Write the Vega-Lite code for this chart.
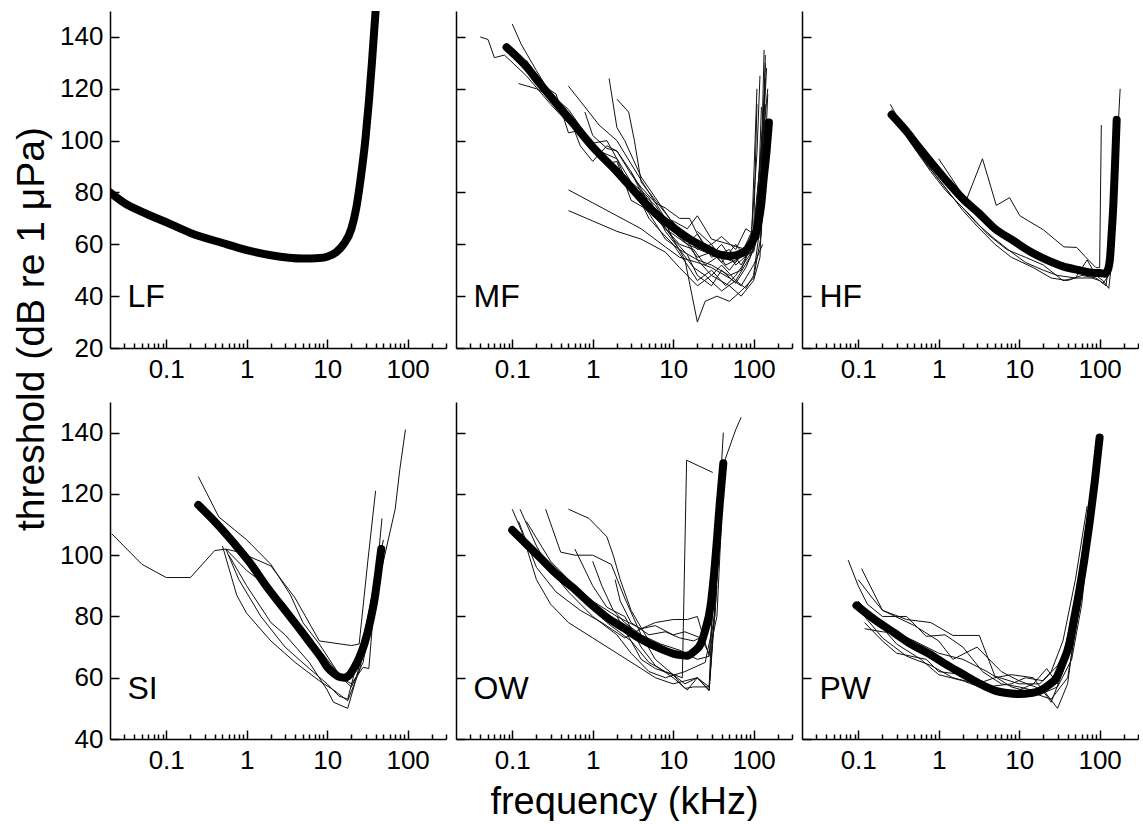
{
  "$schema": "https://vega.github.io/schema/vega-lite/v6.json",
  "padding": {"left": 12, "top": 11, "right": 0, "bottom": 0},
  "config": {
    "view": {"stroke": null},
    "font": "Liberation Sans",
    "axis": {"grid": false, "domainColor": "black", "domainWidth": 1.5, "tickColor": "black", "tickWidth": 1.5, "labelColor": "black", "labelFont": "Liberation Sans", "titleFont": "Liberation Sans", "titleFontSize": 38, "titleFontWeight": "normal", "titleColor": "black", "labelOverlap": false, "labelFlush": false}
  },
  "title": {"text": "threshold (dB re 1 μPa)", "orient": "left", "anchor": "middle", "fontSize": 39, "font": "Liberation Sans", "fontWeight": "normal", "color": "black", "offset": 8, "dx": 87},
  "data": {"name": "curves"},
  "datasets": {
    "curves": [
      {"g":"LF","s":"fit","f":0.02,"t":80},{"g":"LF","s":"fit","f":0.03,"t":76},{"g":"LF","s":"fit","f":0.05,"t":72.5},{"g":"LF","s":"fit","f":0.1,"t":68.5},{"g":"LF","s":"fit","f":0.2,"t":64.4},{"g":"LF","s":"fit","f":0.5,"t":60.5},{"g":"LF","s":"fit","f":1,"t":57.8},{"g":"LF","s":"fit","f":2,"t":55.8},{"g":"LF","s":"fit","f":5,"t":54.5},{"g":"LF","s":"fit","f":8,"t":54.7},{"g":"LF","s":"fit","f":10,"t":55.2},{"g":"LF","s":"fit","f":13,"t":57},{"g":"LF","s":"fit","f":16,"t":60},{"g":"LF","s":"fit","f":20,"t":66},{"g":"LF","s":"fit","f":23,"t":74},{"g":"LF","s":"fit","f":26,"t":85},{"g":"LF","s":"fit","f":30,"t":101},{"g":"LF","s":"fit","f":33,"t":115},{"g":"LF","s":"fit","f":36,"t":130},{"g":"LF","s":"fit","f":40,"t":150},

      {"g":"MF","s":"fit","f":0.085,"t":136},{"g":"MF","s":"fit","f":0.15,"t":128.5},{"g":"MF","s":"fit","f":0.22,"t":122},{"g":"MF","s":"fit","f":0.56,"t":107},{"g":"MF","s":"fit","f":1,"t":97.6},{"g":"MF","s":"fit","f":2,"t":88},{"g":"MF","s":"fit","f":3.9,"t":78},{"g":"MF","s":"fit","f":6,"t":72},{"g":"MF","s":"fit","f":10,"t":66.5},{"g":"MF","s":"fit","f":17,"t":61.5},{"g":"MF","s":"fit","f":26,"t":58.5},{"g":"MF","s":"fit","f":38,"t":56},{"g":"MF","s":"fit","f":51,"t":55.5},{"g":"MF","s":"fit","f":70,"t":56.5},{"g":"MF","s":"fit","f":85,"t":58.5},{"g":"MF","s":"fit","f":100,"t":62},{"g":"MF","s":"fit","f":112,"t":66.7},{"g":"MF","s":"fit","f":125,"t":76},{"g":"MF","s":"fit","f":133,"t":85},{"g":"MF","s":"fit","f":145,"t":96},{"g":"MF","s":"fit","f":155,"t":107},

      {"g":"MF","s":"m1","f":0.04,"t":140},{"g":"MF","s":"m1","f":0.05,"t":139},{"g":"MF","s":"m1","f":0.06,"t":132},{"g":"MF","s":"m1","f":0.08,"t":133},{"g":"MF","s":"m1","f":0.15,"t":125},{"g":"MF","s":"m1","f":0.3,"t":114},{"g":"MF","s":"m1","f":0.6,"t":104},{"g":"MF","s":"m1","f":1,"t":97},{"g":"MF","s":"m1","f":2,"t":88},{"g":"MF","s":"m1","f":4,"t":76},{"g":"MF","s":"m1","f":8,"t":66},{"g":"MF","s":"m1","f":15,"t":60},{"g":"MF","s":"m1","f":25,"t":57},{"g":"MF","s":"m1","f":40,"t":55},{"g":"MF","s":"m1","f":60,"t":53},{"g":"MF","s":"m1","f":80,"t":58},{"g":"MF","s":"m1","f":100,"t":66},{"g":"MF","s":"m1","f":120,"t":90},{"g":"MF","s":"m1","f":140,"t":124},
      {"g":"MF","s":"m2","f":0.1,"t":145},{"g":"MF","s":"m2","f":0.13,"t":137},{"g":"MF","s":"m2","f":0.2,"t":127},{"g":"MF","s":"m2","f":0.3,"t":118},{"g":"MF","s":"m2","f":0.5,"t":112},{"g":"MF","s":"m2","f":0.8,"t":103},{"g":"MF","s":"m2","f":1.2,"t":96},{"g":"MF","s":"m2","f":2,"t":93},{"g":"MF","s":"m2","f":3,"t":80},{"g":"MF","s":"m2","f":5,"t":72},{"g":"MF","s":"m2","f":8,"t":62},{"g":"MF","s":"m2","f":12,"t":58},{"g":"MF","s":"m2","f":20,"t":54},{"g":"MF","s":"m2","f":30,"t":52},{"g":"MF","s":"m2","f":50,"t":48},{"g":"MF","s":"m2","f":70,"t":50},{"g":"MF","s":"m2","f":100,"t":62},{"g":"MF","s":"m2","f":130,"t":105},
      {"g":"MF","s":"m3","f":0.12,"t":122},{"g":"MF","s":"m3","f":0.2,"t":120},{"g":"MF","s":"m3","f":0.3,"t":117},{"g":"MF","s":"m3","f":0.5,"t":110},{"g":"MF","s":"m3","f":0.7,"t":104},{"g":"MF","s":"m3","f":1,"t":99},{"g":"MF","s":"m3","f":1.5,"t":100},{"g":"MF","s":"m3","f":2,"t":93},{"g":"MF","s":"m3","f":3,"t":84},{"g":"MF","s":"m3","f":5,"t":70},{"g":"MF","s":"m3","f":7,"t":65},{"g":"MF","s":"m3","f":10,"t":60},{"g":"MF","s":"m3","f":15,"t":52},{"g":"MF","s":"m3","f":20,"t":46},{"g":"MF","s":"m3","f":30,"t":50},{"g":"MF","s":"m3","f":45,"t":44},{"g":"MF","s":"m3","f":60,"t":48},{"g":"MF","s":"m3","f":90,"t":56},{"g":"MF","s":"m3","f":110,"t":95},{"g":"MF","s":"m3","f":120,"t":125},
      {"g":"MF","s":"m4","f":0.5,"t":81},{"g":"MF","s":"m4","f":1,"t":76},{"g":"MF","s":"m4","f":2,"t":71},{"g":"MF","s":"m4","f":4,"t":66},{"g":"MF","s":"m4","f":8,"t":59},{"g":"MF","s":"m4","f":12,"t":55},{"g":"MF","s":"m4","f":20,"t":53},{"g":"MF","s":"m4","f":30,"t":51},{"g":"MF","s":"m4","f":50,"t":47},{"g":"MF","s":"m4","f":70,"t":44},{"g":"MF","s":"m4","f":100,"t":52},{"g":"MF","s":"m4","f":130,"t":60},
      {"g":"MF","s":"m5","f":0.5,"t":73},{"g":"MF","s":"m5","f":1,"t":69},{"g":"MF","s":"m5","f":2,"t":65},{"g":"MF","s":"m5","f":4,"t":62},{"g":"MF","s":"m5","f":8,"t":57},{"g":"MF","s":"m5","f":12,"t":51},{"g":"MF","s":"m5","f":20,"t":44},{"g":"MF","s":"m5","f":30,"t":48},{"g":"MF","s":"m5","f":50,"t":44},{"g":"MF","s":"m5","f":70,"t":40},{"g":"MF","s":"m5","f":100,"t":46},{"g":"MF","s":"m5","f":120,"t":55},{"g":"MF","s":"m5","f":140,"t":108},
      {"g":"MF","s":"m6","f":1.6,"t":124},{"g":"MF","s":"m6","f":2,"t":105},{"g":"MF","s":"m6","f":2.5,"t":100},{"g":"MF","s":"m6","f":4,"t":86},{"g":"MF","s":"m6","f":6,"t":78},{"g":"MF","s":"m6","f":10,"t":68},{"g":"MF","s":"m6","f":15,"t":62},{"g":"MF","s":"m6","f":20,"t":54},{"g":"MF","s":"m6","f":30,"t":48},{"g":"MF","s":"m6","f":40,"t":52},{"g":"MF","s":"m6","f":60,"t":46},{"g":"MF","s":"m6","f":90,"t":55},{"g":"MF","s":"m6","f":110,"t":63},
      {"g":"MF","s":"m7","f":2,"t":116},{"g":"MF","s":"m7","f":2.8,"t":111},{"g":"MF","s":"m7","f":3.3,"t":100},{"g":"MF","s":"m7","f":4,"t":84},{"g":"MF","s":"m7","f":6,"t":77},{"g":"MF","s":"m7","f":9,"t":70},{"g":"MF","s":"m7","f":14,"t":64},{"g":"MF","s":"m7","f":20,"t":58},{"g":"MF","s":"m7","f":30,"t":60},{"g":"MF","s":"m7","f":45,"t":52},{"g":"MF","s":"m7","f":70,"t":55},{"g":"MF","s":"m7","f":100,"t":57},{"g":"MF","s":"m7","f":120,"t":68},{"g":"MF","s":"m7","f":140,"t":130},
      {"g":"MF","s":"m8","f":0.5,"t":121},{"g":"MF","s":"m8","f":0.8,"t":113},{"g":"MF","s":"m8","f":1.2,"t":106},{"g":"MF","s":"m8","f":2,"t":100},{"g":"MF","s":"m8","f":3,"t":91},{"g":"MF","s":"m8","f":5,"t":80},{"g":"MF","s":"m8","f":8,"t":70},{"g":"MF","s":"m8","f":10,"t":69},{"g":"MF","s":"m8","f":15,"t":66},{"g":"MF","s":"m8","f":20,"t":71},{"g":"MF","s":"m8","f":30,"t":62},{"g":"MF","s":"m8","f":50,"t":60},{"g":"MF","s":"m8","f":80,"t":58},{"g":"MF","s":"m8","f":100,"t":62},{"g":"MF","s":"m8","f":130,"t":100},{"g":"MF","s":"m8","f":150,"t":120},
      {"g":"MF","s":"m9","f":0.2,"t":123},{"g":"MF","s":"m9","f":0.3,"t":119},{"g":"MF","s":"m9","f":0.5,"t":110},{"g":"MF","s":"m9","f":0.7,"t":98},{"g":"MF","s":"m9","f":1,"t":92},{"g":"MF","s":"m9","f":1.5,"t":98},{"g":"MF","s":"m9","f":2,"t":96},{"g":"MF","s":"m9","f":3,"t":88},{"g":"MF","s":"m9","f":4,"t":80},{"g":"MF","s":"m9","f":6,"t":75},{"g":"MF","s":"m9","f":10,"t":65},{"g":"MF","s":"m9","f":15,"t":60},{"g":"MF","s":"m9","f":20,"t":64},{"g":"MF","s":"m9","f":30,"t":55},{"g":"MF","s":"m9","f":50,"t":58},{"g":"MF","s":"m9","f":70,"t":52},{"g":"MF","s":"m9","f":100,"t":60},{"g":"MF","s":"m9","f":120,"t":80},{"g":"MF","s":"m9","f":145,"t":128},
      {"g":"MF","s":"m10","f":0.15,"t":131},{"g":"MF","s":"m10","f":0.25,"t":121},{"g":"MF","s":"m10","f":0.35,"t":118},{"g":"MF","s":"m10","f":0.5,"t":103},{"g":"MF","s":"m10","f":0.7,"t":104},{"g":"MF","s":"m10","f":1,"t":96},{"g":"MF","s":"m10","f":2,"t":90},{"g":"MF","s":"m10","f":3,"t":84},{"g":"MF","s":"m10","f":5,"t":78},{"g":"MF","s":"m10","f":8,"t":65},{"g":"MF","s":"m10","f":12,"t":58},{"g":"MF","s":"m10","f":18,"t":51},{"g":"MF","s":"m10","f":25,"t":48},{"g":"MF","s":"m10","f":40,"t":42},{"g":"MF","s":"m10","f":60,"t":46},{"g":"MF","s":"m10","f":80,"t":43},{"g":"MF","s":"m10","f":100,"t":48},{"g":"MF","s":"m10","f":130,"t":75},{"g":"MF","s":"m10","f":150,"t":118},
      {"g":"MF","s":"m11","f":0.3,"t":115},{"g":"MF","s":"m11","f":0.5,"t":108},{"g":"MF","s":"m11","f":1,"t":96},{"g":"MF","s":"m11","f":1.5,"t":91},{"g":"MF","s":"m11","f":2,"t":92},{"g":"MF","s":"m11","f":3,"t":77},{"g":"MF","s":"m11","f":5,"t":73},{"g":"MF","s":"m11","f":7,"t":72},{"g":"MF","s":"m11","f":10,"t":62},{"g":"MF","s":"m11","f":14,"t":54},{"g":"MF","s":"m11","f":20,"t":30},{"g":"MF","s":"m11","f":25,"t":38},{"g":"MF","s":"m11","f":35,"t":40},{"g":"MF","s":"m11","f":50,"t":38},{"g":"MF","s":"m11","f":70,"t":42},{"g":"MF","s":"m11","f":100,"t":47},{"g":"MF","s":"m11","f":125,"t":64},{"g":"MF","s":"m11","f":140,"t":114},
      {"g":"MF","s":"m12","f":0.8,"t":111},{"g":"MF","s":"m12","f":1,"t":102},{"g":"MF","s":"m12","f":1.5,"t":97},{"g":"MF","s":"m12","f":2,"t":96},{"g":"MF","s":"m12","f":3,"t":87},{"g":"MF","s":"m12","f":4,"t":82},{"g":"MF","s":"m12","f":6,"t":76},{"g":"MF","s":"m12","f":8,"t":74},{"g":"MF","s":"m12","f":12,"t":70},{"g":"MF","s":"m12","f":16,"t":70},{"g":"MF","s":"m12","f":20,"t":64},{"g":"MF","s":"m12","f":30,"t":56},{"g":"MF","s":"m12","f":40,"t":60},{"g":"MF","s":"m12","f":60,"t":52},{"g":"MF","s":"m12","f":100,"t":58},{"g":"MF","s":"m12","f":120,"t":70},{"g":"MF","s":"m12","f":135,"t":135},
      {"g":"MF","s":"m13","f":4,"t":80},{"g":"MF","s":"m13","f":6,"t":72},{"g":"MF","s":"m13","f":10,"t":62},{"g":"MF","s":"m13","f":15,"t":56},{"g":"MF","s":"m13","f":20,"t":48},{"g":"MF","s":"m13","f":30,"t":44},{"g":"MF","s":"m13","f":40,"t":50},{"g":"MF","s":"m13","f":60,"t":45},{"g":"MF","s":"m13","f":80,"t":51},{"g":"MF","s":"m13","f":100,"t":58},{"g":"MF","s":"m13","f":115,"t":80},{"g":"MF","s":"m13","f":125,"t":113},
      {"g":"MF","s":"m14","f":3,"t":88},{"g":"MF","s":"m14","f":5,"t":76},{"g":"MF","s":"m14","f":8,"t":66},{"g":"MF","s":"m14","f":12,"t":60},{"g":"MF","s":"m14","f":18,"t":58},{"g":"MF","s":"m14","f":25,"t":52},{"g":"MF","s":"m14","f":35,"t":55},{"g":"MF","s":"m14","f":50,"t":50},{"g":"MF","s":"m14","f":70,"t":56},{"g":"MF","s":"m14","f":95,"t":65},{"g":"MF","s":"m14","f":110,"t":120},
      {"g":"MF","s":"m15","f":10,"t":66},{"g":"MF","s":"m15","f":15,"t":60},{"g":"MF","s":"m15","f":20,"t":55},{"g":"MF","s":"m15","f":30,"t":57},{"g":"MF","s":"m15","f":40,"t":53},{"g":"MF","s":"m15","f":60,"t":60},{"g":"MF","s":"m15","f":80,"t":55},{"g":"MF","s":"m15","f":100,"t":60},{"g":"MF","s":"m15","f":120,"t":63},{"g":"MF","s":"m15","f":140,"t":133},
      {"g":"MF","s":"m16","f":20,"t":65},{"g":"MF","s":"m16","f":30,"t":60},{"g":"MF","s":"m16","f":40,"t":63},{"g":"MF","s":"m16","f":60,"t":58},{"g":"MF","s":"m16","f":80,"t":66},{"g":"MF","s":"m16","f":100,"t":64},{"g":"MF","s":"m16","f":110,"t":114},

      {"g":"HF","s":"fit","f":0.26,"t":110},{"g":"HF","s":"fit","f":0.4,"t":103.5},{"g":"HF","s":"fit","f":0.56,"t":97.6},{"g":"HF","s":"fit","f":1.22,"t":84.9},{"g":"HF","s":"fit","f":2,"t":77.5},{"g":"HF","s":"fit","f":3.16,"t":72},{"g":"HF","s":"fit","f":5,"t":66},{"g":"HF","s":"fit","f":8.2,"t":61.7},{"g":"HF","s":"fit","f":14,"t":57},{"g":"HF","s":"fit","f":22,"t":54},{"g":"HF","s":"fit","f":35,"t":51.5},{"g":"HF","s":"fit","f":56,"t":50},{"g":"HF","s":"fit","f":80,"t":49},{"g":"HF","s":"fit","f":100,"t":48.9},{"g":"HF","s":"fit","f":115,"t":48.6},{"g":"HF","s":"fit","f":126,"t":50},{"g":"HF","s":"fit","f":135,"t":55},{"g":"HF","s":"fit","f":141,"t":64},{"g":"HF","s":"fit","f":148,"t":75},{"g":"HF","s":"fit","f":155,"t":90},{"g":"HF","s":"fit","f":163,"t":108},
      {"g":"HF","s":"h1","f":0.25,"t":114},{"g":"HF","s":"h1","f":0.35,"t":106},{"g":"HF","s":"h1","f":0.5,"t":97},{"g":"HF","s":"h1","f":0.8,"t":88},{"g":"HF","s":"h1","f":1.2,"t":81},{"g":"HF","s":"h1","f":2,"t":74},{"g":"HF","s":"h1","f":3,"t":68},{"g":"HF","s":"h1","f":5,"t":62},{"g":"HF","s":"h1","f":8,"t":57},{"g":"HF","s":"h1","f":12,"t":53},{"g":"HF","s":"h1","f":20,"t":50},{"g":"HF","s":"h1","f":30,"t":48},{"g":"HF","s":"h1","f":50,"t":47},{"g":"HF","s":"h1","f":80,"t":47},{"g":"HF","s":"h1","f":100,"t":46},{"g":"HF","s":"h1","f":120,"t":44},{"g":"HF","s":"h1","f":140,"t":60},{"g":"HF","s":"h1","f":160,"t":90},{"g":"HF","s":"h1","f":180,"t":120},
      {"g":"HF","s":"h2","f":0.26,"t":112},{"g":"HF","s":"h2","f":0.4,"t":103},{"g":"HF","s":"h2","f":0.6,"t":94},{"g":"HF","s":"h2","f":1,"t":85},{"g":"HF","s":"h2","f":1.5,"t":78},{"g":"HF","s":"h2","f":2.5,"t":71},{"g":"HF","s":"h2","f":4,"t":64},{"g":"HF","s":"h2","f":7,"t":58},{"g":"HF","s":"h2","f":12,"t":55},{"g":"HF","s":"h2","f":20,"t":52},{"g":"HF","s":"h2","f":35,"t":46},{"g":"HF","s":"h2","f":50,"t":47},{"g":"HF","s":"h2","f":70,"t":54},{"g":"HF","s":"h2","f":90,"t":48},{"g":"HF","s":"h2","f":110,"t":46},{"g":"HF","s":"h2","f":130,"t":43},{"g":"HF","s":"h2","f":150,"t":60},
      {"g":"HF","s":"h3","f":1,"t":93},{"g":"HF","s":"h3","f":2.2,"t":77},{"g":"HF","s":"h3","f":3.5,"t":93},{"g":"HF","s":"h3","f":5.2,"t":75},{"g":"HF","s":"h3","f":7.6,"t":78},{"g":"HF","s":"h3","f":10.2,"t":71},{"g":"HF","s":"h3","f":20,"t":65.6},{"g":"HF","s":"h3","f":36,"t":59},{"g":"HF","s":"h3","f":52,"t":58.8},{"g":"HF","s":"h3","f":66,"t":55.3},{"g":"HF","s":"h3","f":90,"t":51},{"g":"HF","s":"h3","f":100,"t":51},{"g":"HF","s":"h3","f":105,"t":106},
      {"g":"HF","s":"h4","f":0.28,"t":109},{"g":"HF","s":"h4","f":0.45,"t":99},{"g":"HF","s":"h4","f":0.7,"t":91},{"g":"HF","s":"h4","f":1.2,"t":82},{"g":"HF","s":"h4","f":2,"t":73},{"g":"HF","s":"h4","f":3,"t":67},{"g":"HF","s":"h4","f":5,"t":60},{"g":"HF","s":"h4","f":8,"t":55},{"g":"HF","s":"h4","f":15,"t":51},{"g":"HF","s":"h4","f":25,"t":47},{"g":"HF","s":"h4","f":40,"t":46},{"g":"HF","s":"h4","f":60,"t":48},{"g":"HF","s":"h4","f":90,"t":47},{"g":"HF","s":"h4","f":110,"t":45},{"g":"HF","s":"h4","f":130,"t":48},{"g":"HF","s":"h4","f":150,"t":75},{"g":"HF","s":"h4","f":165,"t":105},

      {"g":"SI","s":"fit","f":0.25,"t":116.4},{"g":"SI","s":"fit","f":0.4,"t":111},{"g":"SI","s":"fit","f":0.69,"t":104},{"g":"SI","s":"fit","f":1.1,"t":97.5},{"g":"SI","s":"fit","f":1.8,"t":89.5},{"g":"SI","s":"fit","f":3,"t":82},{"g":"SI","s":"fit","f":4.7,"t":75.4},{"g":"SI","s":"fit","f":6.5,"t":70.5},{"g":"SI","s":"fit","f":8.4,"t":66.6},{"g":"SI","s":"fit","f":10,"t":63.5},{"g":"SI","s":"fit","f":12.3,"t":61.3},{"g":"SI","s":"fit","f":14,"t":60.3},{"g":"SI","s":"fit","f":16.3,"t":60},{"g":"SI","s":"fit","f":19,"t":61},{"g":"SI","s":"fit","f":21.7,"t":63.3},{"g":"SI","s":"fit","f":25,"t":66.5},{"g":"SI","s":"fit","f":29,"t":71},{"g":"SI","s":"fit","f":34,"t":78},{"g":"SI","s":"fit","f":39,"t":86},{"g":"SI","s":"fit","f":43,"t":94},{"g":"SI","s":"fit","f":47,"t":102},
      {"g":"SI","s":"s1","f":0.021,"t":107},{"g":"SI","s":"s1","f":0.05,"t":97},{"g":"SI","s":"s1","f":0.1,"t":92.7},{"g":"SI","s":"s1","f":0.2,"t":92.7},{"g":"SI","s":"s1","f":0.4,"t":101.5},{"g":"SI","s":"s1","f":0.55,"t":102},{"g":"SI","s":"s1","f":0.8,"t":101},{"g":"SI","s":"s1","f":2,"t":96.5},{"g":"SI","s":"s1","f":4,"t":86},{"g":"SI","s":"s1","f":8,"t":72},{"g":"SI","s":"s1","f":20,"t":70.5},{"g":"SI","s":"s1","f":25,"t":71},{"g":"SI","s":"s1","f":32,"t":98},{"g":"SI","s":"s1","f":40,"t":121},
      {"g":"SI","s":"s2","f":0.25,"t":125.7},{"g":"SI","s":"s2","f":0.45,"t":112.5},{"g":"SI","s":"s2","f":1,"t":105},{"g":"SI","s":"s2","f":2,"t":97},{"g":"SI","s":"s2","f":3.5,"t":87},{"g":"SI","s":"s2","f":5,"t":78},{"g":"SI","s":"s2","f":8,"t":71},{"g":"SI","s":"s2","f":15,"t":60},{"g":"SI","s":"s2","f":20,"t":58},{"g":"SI","s":"s2","f":28,"t":63.4},{"g":"SI","s":"s2","f":33,"t":63},{"g":"SI","s":"s2","f":40,"t":90},{"g":"SI","s":"s2","f":48,"t":112},
      {"g":"SI","s":"s3","f":0.5,"t":103},{"g":"SI","s":"s3","f":0.75,"t":87},{"g":"SI","s":"s3","f":1,"t":81},{"g":"SI","s":"s3","f":2,"t":72},{"g":"SI","s":"s3","f":4,"t":65},{"g":"SI","s":"s3","f":8,"t":59},{"g":"SI","s":"s3","f":12,"t":56},{"g":"SI","s":"s3","f":18,"t":52.5},{"g":"SI","s":"s3","f":25,"t":62},{"g":"SI","s":"s3","f":35,"t":80},{"g":"SI","s":"s3","f":50,"t":98},{"g":"SI","s":"s3","f":70,"t":115},{"g":"SI","s":"s3","f":80,"t":128},{"g":"SI","s":"s3","f":94,"t":141},
      {"g":"SI","s":"s4","f":0.55,"t":102},{"g":"SI","s":"s4","f":0.8,"t":92},{"g":"SI","s":"s4","f":1.5,"t":80},{"g":"SI","s":"s4","f":3,"t":70},{"g":"SI","s":"s4","f":6,"t":63},{"g":"SI","s":"s4","f":10,"t":58},{"g":"SI","s":"s4","f":14,"t":54},{"g":"SI","s":"s4","f":18,"t":53},{"g":"SI","s":"s4","f":22,"t":62},{"g":"SI","s":"s4","f":30,"t":76},{"g":"SI","s":"s4","f":40,"t":93},{"g":"SI","s":"s4","f":50,"t":105},
      {"g":"SI","s":"s5","f":0.6,"t":100},{"g":"SI","s":"s5","f":1,"t":90},{"g":"SI","s":"s5","f":2,"t":78},{"g":"SI","s":"s5","f":3,"t":74},{"g":"SI","s":"s5","f":6,"t":65},{"g":"SI","s":"s5","f":10,"t":56},{"g":"SI","s":"s5","f":12,"t":52},{"g":"SI","s":"s5","f":18,"t":50},{"g":"SI","s":"s5","f":22,"t":58},{"g":"SI","s":"s5","f":30,"t":72},{"g":"SI","s":"s5","f":45,"t":100},
      {"g":"SI","s":"s6","f":0.55,"t":102},{"g":"SI","s":"s6","f":1,"t":95},{"g":"SI","s":"s6","f":2,"t":89},{"g":"SI","s":"s6","f":3,"t":84},{"g":"SI","s":"s6","f":4,"t":78},{"g":"SI","s":"s6","f":6,"t":73},{"g":"SI","s":"s6","f":10,"t":66},{"g":"SI","s":"s6","f":15,"t":60},{"g":"SI","s":"s6","f":20,"t":57},{"g":"SI","s":"s6","f":28,"t":65},{"g":"SI","s":"s6","f":40,"t":88},

      {"g":"OW","s":"fit","f":0.1,"t":108.2},{"g":"OW","s":"fit","f":0.22,"t":99.3},{"g":"OW","s":"fit","f":0.35,"t":94},{"g":"OW","s":"fit","f":0.56,"t":89.5},{"g":"OW","s":"fit","f":1,"t":83.5},{"g":"OW","s":"fit","f":1.5,"t":79.7},{"g":"OW","s":"fit","f":2.5,"t":76},{"g":"OW","s":"fit","f":3.9,"t":72.7},{"g":"OW","s":"fit","f":6.5,"t":69.8},{"g":"OW","s":"fit","f":10,"t":67.9},{"g":"OW","s":"fit","f":12.5,"t":67.4},{"g":"OW","s":"fit","f":15,"t":67.2},{"g":"OW","s":"fit","f":18,"t":68.5},{"g":"OW","s":"fit","f":22,"t":71},{"g":"OW","s":"fit","f":25,"t":75.5},{"g":"OW","s":"fit","f":29,"t":83},{"g":"OW","s":"fit","f":32,"t":93},{"g":"OW","s":"fit","f":35,"t":105},{"g":"OW","s":"fit","f":38,"t":117},{"g":"OW","s":"fit","f":42,"t":130},
      {"g":"OW","s":"o1","f":0.1,"t":115},{"g":"OW","s":"o1","f":0.13,"t":108},{"g":"OW","s":"o1","f":0.2,"t":92},{"g":"OW","s":"o1","f":0.3,"t":84},{"g":"OW","s":"o1","f":0.5,"t":78},{"g":"OW","s":"o1","f":1,"t":73},{"g":"OW","s":"o1","f":2,"t":68},{"g":"OW","s":"o1","f":4,"t":63},{"g":"OW","s":"o1","f":6,"t":60},{"g":"OW","s":"o1","f":10,"t":58},{"g":"OW","s":"o1","f":20,"t":60},{"g":"OW","s":"o1","f":28,"t":57},{"g":"OW","s":"o1","f":33,"t":83},{"g":"OW","s":"o1","f":38,"t":120},{"g":"OW","s":"o1","f":42,"t":140},
      {"g":"OW","s":"o2","f":0.125,"t":115},{"g":"OW","s":"o2","f":0.2,"t":103},{"g":"OW","s":"o2","f":0.3,"t":95},{"g":"OW","s":"o2","f":0.5,"t":88},{"g":"OW","s":"o2","f":1,"t":80},{"g":"OW","s":"o2","f":2,"t":74},{"g":"OW","s":"o2","f":3,"t":68},{"g":"OW","s":"o2","f":5,"t":62},{"g":"OW","s":"o2","f":8,"t":60},{"g":"OW","s":"o2","f":14,"t":62},{"g":"OW","s":"o2","f":25,"t":65},{"g":"OW","s":"o2","f":33,"t":80},{"g":"OW","s":"o2","f":40,"t":118},
      {"g":"OW","s":"o3","f":0.26,"t":115},{"g":"OW","s":"o3","f":0.4,"t":101},{"g":"OW","s":"o3","f":0.6,"t":100},{"g":"OW","s":"o3","f":1,"t":100},{"g":"OW","s":"o3","f":1.7,"t":97},{"g":"OW","s":"o3","f":2.5,"t":86},{"g":"OW","s":"o3","f":4,"t":74},{"g":"OW","s":"o3","f":6,"t":66},{"g":"OW","s":"o3","f":10,"t":61},{"g":"OW","s":"o3","f":14,"t":56.5},{"g":"OW","s":"o3","f":18,"t":57},{"g":"OW","s":"o3","f":28,"t":57},{"g":"OW","s":"o3","f":33,"t":100},{"g":"OW","s":"o3","f":40,"t":128},{"g":"OW","s":"o3","f":60,"t":141},{"g":"OW","s":"o3","f":70,"t":145},
      {"g":"OW","s":"o4","f":0.5,"t":115},{"g":"OW","s":"o4","f":0.9,"t":112},{"g":"OW","s":"o4","f":1.5,"t":106},{"g":"OW","s":"o4","f":1.8,"t":100},{"g":"OW","s":"o4","f":2.2,"t":92},{"g":"OW","s":"o4","f":3,"t":82},{"g":"OW","s":"o4","f":5,"t":72},{"g":"OW","s":"o4","f":8,"t":68},{"g":"OW","s":"o4","f":12,"t":67},{"g":"OW","s":"o4","f":20,"t":70},{"g":"OW","s":"o4","f":30,"t":80},
      {"g":"OW","s":"o5","f":0.6,"t":102},{"g":"OW","s":"o5","f":1,"t":90},{"g":"OW","s":"o5","f":1.5,"t":83},{"g":"OW","s":"o5","f":2.5,"t":80},{"g":"OW","s":"o5","f":4,"t":70},{"g":"OW","s":"o5","f":6,"t":64},{"g":"OW","s":"o5","f":10,"t":60},{"g":"OW","s":"o5","f":15,"t":56},{"g":"OW","s":"o5","f":20,"t":60},{"g":"OW","s":"o5","f":28,"t":55.7},{"g":"OW","s":"o5","f":35,"t":90},
      {"g":"OW","s":"o6","f":1,"t":98},{"g":"OW","s":"o6","f":1.3,"t":90},{"g":"OW","s":"o6","f":1.8,"t":82},{"g":"OW","s":"o6","f":2.5,"t":78},{"g":"OW","s":"o6","f":4,"t":74},{"g":"OW","s":"o6","f":7,"t":71},{"g":"OW","s":"o6","f":12,"t":69},{"g":"OW","s":"o6","f":20,"t":66},{"g":"OW","s":"o6","f":28,"t":67},
      {"g":"OW","s":"o7","f":1.9,"t":92},{"g":"OW","s":"o7","f":2.2,"t":85},{"g":"OW","s":"o7","f":3,"t":78},{"g":"OW","s":"o7","f":5,"t":74},{"g":"OW","s":"o7","f":8,"t":75},{"g":"OW","s":"o7","f":12,"t":73},{"g":"OW","s":"o7","f":18,"t":72},{"g":"OW","s":"o7","f":25,"t":74},{"g":"OW","s":"o7","f":30,"t":78},
      {"g":"OW","s":"o8","f":0.12,"t":111},{"g":"OW","s":"o8","f":0.2,"t":96},{"g":"OW","s":"o8","f":0.35,"t":88},{"g":"OW","s":"o8","f":0.7,"t":82},{"g":"OW","s":"o8","f":1.3,"t":78},{"g":"OW","s":"o8","f":2.5,"t":73},{"g":"OW","s":"o8","f":4,"t":76},{"g":"OW","s":"o8","f":6,"t":77},{"g":"OW","s":"o8","f":10,"t":74},{"g":"OW","s":"o8","f":14,"t":75},{"g":"OW","s":"o8","f":22,"t":73},{"g":"OW","s":"o8","f":28,"t":68},{"g":"OW","s":"o8","f":35,"t":80},{"g":"OW","s":"o8","f":40,"t":112},
      {"g":"OW","s":"o9","f":1,"t":83},{"g":"OW","s":"o9","f":1.5,"t":78},{"g":"OW","s":"o9","f":3,"t":72},{"g":"OW","s":"o9","f":5,"t":65},{"g":"OW","s":"o9","f":8,"t":62},{"g":"OW","s":"o9","f":13,"t":60},{"g":"OW","s":"o9","f":14.7,"t":131},{"g":"OW","s":"o9","f":31,"t":127},
      {"g":"OW","s":"o10","f":0.15,"t":111},{"g":"OW","s":"o10","f":0.3,"t":98},{"g":"OW","s":"o10","f":0.6,"t":90},{"g":"OW","s":"o10","f":1,"t":85},{"g":"OW","s":"o10","f":2,"t":80},{"g":"OW","s":"o10","f":4,"t":76},{"g":"OW","s":"o10","f":6,"t":78},{"g":"OW","s":"o10","f":10,"t":79},{"g":"OW","s":"o10","f":15,"t":79},{"g":"OW","s":"o10","f":20,"t":80},{"g":"OW","s":"o10","f":28,"t":67},{"g":"OW","s":"o10","f":35,"t":100},
      {"g":"OW","s":"o11","f":2,"t":80},{"g":"OW","s":"o11","f":3,"t":72},{"g":"OW","s":"o11","f":4,"t":66},{"g":"OW","s":"o11","f":6,"t":63},{"g":"OW","s":"o11","f":10,"t":61},{"g":"OW","s":"o11","f":14,"t":58},{"g":"OW","s":"o11","f":20,"t":60},{"g":"OW","s":"o11","f":28,"t":56},{"g":"OW","s":"o11","f":33,"t":84},

      {"g":"PW","s":"fit","f":0.095,"t":83.6},{"g":"PW","s":"fit","f":0.15,"t":79.5},{"g":"PW","s":"fit","f":0.29,"t":74.4},{"g":"PW","s":"fit","f":0.45,"t":71},{"g":"PW","s":"fit","f":0.75,"t":67.9},{"g":"PW","s":"fit","f":1.2,"t":64.5},{"g":"PW","s":"fit","f":1.95,"t":61.3},{"g":"PW","s":"fit","f":3,"t":58.5},{"g":"PW","s":"fit","f":5.1,"t":55.7},{"g":"PW","s":"fit","f":7,"t":55},{"g":"PW","s":"fit","f":10,"t":54.7},{"g":"PW","s":"fit","f":14,"t":55},{"g":"PW","s":"fit","f":18,"t":55.7},{"g":"PW","s":"fit","f":23,"t":57.5},{"g":"PW","s":"fit","f":29,"t":60},{"g":"PW","s":"fit","f":35,"t":65},{"g":"PW","s":"fit","f":42,"t":71},{"g":"PW","s":"fit","f":48,"t":79},{"g":"PW","s":"fit","f":56,"t":88.5},{"g":"PW","s":"fit","f":65,"t":99},{"g":"PW","s":"fit","f":75,"t":110.5},{"g":"PW","s":"fit","f":87,"t":124},{"g":"PW","s":"fit","f":100,"t":138.4},
      {"g":"PW","s":"p1","f":0.075,"t":98.4},{"g":"PW","s":"p1","f":0.1,"t":90},{"g":"PW","s":"p1","f":0.13,"t":84},{"g":"PW","s":"p1","f":0.2,"t":80},{"g":"PW","s":"p1","f":0.4,"t":80},{"g":"PW","s":"p1","f":0.7,"t":73.5},{"g":"PW","s":"p1","f":1.2,"t":74},{"g":"PW","s":"p1","f":2,"t":70},{"g":"PW","s":"p1","f":3.5,"t":62},{"g":"PW","s":"p1","f":6,"t":58},{"g":"PW","s":"p1","f":10,"t":57},{"g":"PW","s":"p1","f":20,"t":55},{"g":"PW","s":"p1","f":30,"t":57},{"g":"PW","s":"p1","f":45,"t":66},{"g":"PW","s":"p1","f":60,"t":84},{"g":"PW","s":"p1","f":75,"t":108},{"g":"PW","s":"p1","f":85,"t":122},
      {"g":"PW","s":"p2","f":0.1,"t":92},{"g":"PW","s":"p2","f":0.15,"t":86},{"g":"PW","s":"p2","f":0.2,"t":82},{"g":"PW","s":"p2","f":0.4,"t":79},{"g":"PW","s":"p2","f":0.8,"t":78},{"g":"PW","s":"p2","f":1.5,"t":73.8},{"g":"PW","s":"p2","f":3.2,"t":73.8},{"g":"PW","s":"p2","f":5,"t":60.5},{"g":"PW","s":"p2","f":10,"t":58},{"g":"PW","s":"p2","f":18,"t":58},{"g":"PW","s":"p2","f":25,"t":62},{"g":"PW","s":"p2","f":35,"t":72},{"g":"PW","s":"p2","f":50,"t":92},{"g":"PW","s":"p2","f":70,"t":116},
      {"g":"PW","s":"p3","f":0.11,"t":95.6},{"g":"PW","s":"p3","f":0.2,"t":82},{"g":"PW","s":"p3","f":0.5,"t":77},{"g":"PW","s":"p3","f":1,"t":72},{"g":"PW","s":"p3","f":1.5,"t":66},{"g":"PW","s":"p3","f":3,"t":70},{"g":"PW","s":"p3","f":6,"t":62},{"g":"PW","s":"p3","f":10,"t":59},{"g":"PW","s":"p3","f":20,"t":56},{"g":"PW","s":"p3","f":30,"t":50},{"g":"PW","s":"p3","f":40,"t":58},{"g":"PW","s":"p3","f":55,"t":85},{"g":"PW","s":"p3","f":70,"t":110},
      {"g":"PW","s":"p4","f":0.12,"t":76},{"g":"PW","s":"p4","f":0.2,"t":75},{"g":"PW","s":"p4","f":0.3,"t":74.5},{"g":"PW","s":"p4","f":0.5,"t":72},{"g":"PW","s":"p4","f":1,"t":68},{"g":"PW","s":"p4","f":2,"t":66},{"g":"PW","s":"p4","f":4,"t":62},{"g":"PW","s":"p4","f":8,"t":57},{"g":"PW","s":"p4","f":15,"t":55},{"g":"PW","s":"p4","f":25,"t":53},{"g":"PW","s":"p4","f":40,"t":60},{"g":"PW","s":"p4","f":60,"t":87},{"g":"PW","s":"p4","f":80,"t":115},
      {"g":"PW","s":"p5","f":0.12,"t":78},{"g":"PW","s":"p5","f":0.2,"t":72},{"g":"PW","s":"p5","f":0.3,"t":68},{"g":"PW","s":"p5","f":0.7,"t":66},{"g":"PW","s":"p5","f":1,"t":62},{"g":"PW","s":"p5","f":2,"t":61},{"g":"PW","s":"p5","f":4,"t":57},{"g":"PW","s":"p5","f":8,"t":58},{"g":"PW","s":"p5","f":12,"t":60},{"g":"PW","s":"p5","f":20,"t":59},{"g":"PW","s":"p5","f":30,"t":64},{"g":"PW","s":"p5","f":40,"t":70},{"g":"PW","s":"p5","f":50,"t":82},{"g":"PW","s":"p5","f":65,"t":100},
      {"g":"PW","s":"p6","f":0.1,"t":85},{"g":"PW","s":"p6","f":0.15,"t":80},{"g":"PW","s":"p6","f":0.3,"t":71},{"g":"PW","s":"p6","f":0.6,"t":66},{"g":"PW","s":"p6","f":1,"t":61},{"g":"PW","s":"p6","f":2,"t":59},{"g":"PW","s":"p6","f":4,"t":56},{"g":"PW","s":"p6","f":7,"t":55},{"g":"PW","s":"p6","f":10,"t":56},{"g":"PW","s":"p6","f":15,"t":58},{"g":"PW","s":"p6","f":22,"t":63},{"g":"PW","s":"p6","f":30,"t":58},{"g":"PW","s":"p6","f":45,"t":80},{"g":"PW","s":"p6","f":60,"t":98},
      {"g":"PW","s":"p7","f":0.12,"t":80},{"g":"PW","s":"p7","f":0.2,"t":73},{"g":"PW","s":"p7","f":0.4,"t":67},{"g":"PW","s":"p7","f":0.8,"t":64},{"g":"PW","s":"p7","f":1.5,"t":60},{"g":"PW","s":"p7","f":3,"t":58},{"g":"PW","s":"p7","f":5,"t":60},{"g":"PW","s":"p7","f":8,"t":61},{"g":"PW","s":"p7","f":15,"t":60},{"g":"PW","s":"p7","f":25,"t":52},{"g":"PW","s":"p7","f":35,"t":62},{"g":"PW","s":"p7","f":50,"t":85},{"g":"PW","s":"p7","f":70,"t":112}
    ]
  },
  "vconcat": [
    {"hconcat": [
      {"width": 336, "height": 337, "layer": [
        {"transform": [{"filter": "datum.g == 'LF' && datum.s == 'fit'"}], "mark": {"type": "line", "color": "black", "strokeWidth": 8, "strokeCap": "round", "strokeJoin": "round", "interpolate": "monotone", "clip": true},
         "encoding": {
           "x": {"field": "f", "type": "quantitative", "scale": {"type": "log", "domain": [0.02, 300], "nice": false}, "axis": {"title": null, "values": [0.03,0.04,0.05,0.06,0.07,0.08,0.09,0.1,0.2,0.3,0.4,0.5,0.6,0.7,0.8,0.9,1,2,3,4,5,6,7,8,9,10,20,30,40,50,60,70,80,90,100,200,300], "labelExpr": "datum.value == 0.1 ? '0.1' : datum.value == 1 ? '1' : datum.value == 10 ? '10' : datum.value == 100 ? '100' : ''", "labelFontSize": {"condition": {"test": "datum.value == 0.1 || datum.value == 1 || datum.value == 10 || datum.value == 100", "value": 26}, "value": 0}, "tickSize": {"condition": {"test": "datum.value == 0.1 || datum.value == 1 || datum.value == 10 || datum.value == 100", "value": -9}, "value": -5}, "labelPadding": 17}},
           "y": {"field": "t", "type": "quantitative", "scale": {"domain": [20, 150], "nice": false, "zero": false}, "axis": {"title": null, "values": [20,30,40,50,60,70,80,90,100,110,120,130,140,150], "labelExpr": "datum.value % 20 == 0 ? datum.label : ''", "labelFontSize": {"condition": {"test": "datum.value % 20 == 0", "value": 26}, "value": 0}, "tickSize": {"condition": {"test": "datum.value % 20 == 0", "value": -9}, "value": -5}, "labelPadding": 16}}
         }},
        {"data": {"values": [{}]}, "mark": {"type": "text", "align": "left", "baseline": "alphabetic", "fontSize": 32, "font": "Liberation Sans", "color": "black"}, "encoding": {"x": {"datum": 0.033, "type": "quantitative"}, "y": {"datum": 35.8, "type": "quantitative"}, "text": {"value": "LF"}}}
      ]},
      {"width": 336, "height": 337, "layer": [
        {"transform": [{"filter": "datum.g == 'MF' && datum.s != 'fit'"}], "mark": {"type": "line", "color": "#111111", "strokeWidth": 1, "clip": true},
         "encoding": {
           "x": {"field": "f", "type": "quantitative", "scale": {"type": "log", "domain": [0.02, 300], "nice": false}, "axis": {"title": null, "values": [0.03,0.04,0.05,0.06,0.07,0.08,0.09,0.1,0.2,0.3,0.4,0.5,0.6,0.7,0.8,0.9,1,2,3,4,5,6,7,8,9,10,20,30,40,50,60,70,80,90,100,200,300], "labelExpr": "datum.value == 0.1 ? '0.1' : datum.value == 1 ? '1' : datum.value == 10 ? '10' : datum.value == 100 ? '100' : ''", "labelFontSize": {"condition": {"test": "datum.value == 0.1 || datum.value == 1 || datum.value == 10 || datum.value == 100", "value": 26}, "value": 0}, "tickSize": {"condition": {"test": "datum.value == 0.1 || datum.value == 1 || datum.value == 10 || datum.value == 100", "value": -9}, "value": -5}, "labelPadding": 17}},
           "y": {"field": "t", "type": "quantitative", "scale": {"domain": [20, 150], "nice": false, "zero": false}, "axis": {"title": null, "labels": false, "values": [20,30,40,50,60,70,80,90,100,110,120,130,140,150], "tickSize": {"condition": {"test": "datum.value % 20 == 0", "value": -9}, "value": -5}}},
           "detail": {"field": "s"}
         }},
        {"transform": [{"filter": "datum.g == 'MF' && datum.s == 'fit'"}], "mark": {"type": "line", "color": "black", "strokeWidth": 8, "strokeCap": "round", "strokeJoin": "round", "interpolate": "monotone", "clip": true},
         "encoding": {
           "x": {"field": "f", "type": "quantitative", "scale": {"type": "log", "domain": [0.02, 300], "nice": false}},
           "y": {"field": "t", "type": "quantitative", "scale": {"domain": [20, 150], "nice": false, "zero": false}}
         }},
        {"data": {"values": [{}]}, "mark": {"type": "text", "align": "left", "baseline": "alphabetic", "fontSize": 32, "font": "Liberation Sans", "color": "black"}, "encoding": {"x": {"datum": 0.033, "type": "quantitative"}, "y": {"datum": 35.8, "type": "quantitative"}, "text": {"value": "MF"}}}
      ]},
      {"width": 336, "height": 337, "layer": [
        {"transform": [{"filter": "datum.g == 'HF' && datum.s != 'fit'"}], "mark": {"type": "line", "color": "#111111", "strokeWidth": 1, "clip": true},
         "encoding": {
           "x": {"field": "f", "type": "quantitative", "scale": {"type": "log", "domain": [0.02, 300], "nice": false}, "axis": {"title": null, "values": [0.03,0.04,0.05,0.06,0.07,0.08,0.09,0.1,0.2,0.3,0.4,0.5,0.6,0.7,0.8,0.9,1,2,3,4,5,6,7,8,9,10,20,30,40,50,60,70,80,90,100,200,300], "labelExpr": "datum.value == 0.1 ? '0.1' : datum.value == 1 ? '1' : datum.value == 10 ? '10' : datum.value == 100 ? '100' : ''", "labelFontSize": {"condition": {"test": "datum.value == 0.1 || datum.value == 1 || datum.value == 10 || datum.value == 100", "value": 26}, "value": 0}, "tickSize": {"condition": {"test": "datum.value == 0.1 || datum.value == 1 || datum.value == 10 || datum.value == 100", "value": -9}, "value": -5}, "labelPadding": 17}},
           "y": {"field": "t", "type": "quantitative", "scale": {"domain": [20, 150], "nice": false, "zero": false}, "axis": {"title": null, "labels": false, "values": [20,30,40,50,60,70,80,90,100,110,120,130,140,150], "tickSize": {"condition": {"test": "datum.value % 20 == 0", "value": -9}, "value": -5}}},
           "detail": {"field": "s"}
         }},
        {"transform": [{"filter": "datum.g == 'HF' && datum.s == 'fit'"}], "mark": {"type": "line", "color": "black", "strokeWidth": 8, "strokeCap": "round", "strokeJoin": "round", "interpolate": "monotone", "clip": true},
         "encoding": {
           "x": {"field": "f", "type": "quantitative", "scale": {"type": "log", "domain": [0.02, 300], "nice": false}},
           "y": {"field": "t", "type": "quantitative", "scale": {"domain": [20, 150], "nice": false, "zero": false}}
         }},
        {"data": {"values": [{}]}, "mark": {"type": "text", "align": "left", "baseline": "alphabetic", "fontSize": 32, "font": "Liberation Sans", "color": "black"}, "encoding": {"x": {"datum": 0.033, "type": "quantitative"}, "y": {"datum": 35.8, "type": "quantitative"}, "text": {"value": "HF"}}}
      ]}
    ], "spacing": 8},
    {"hconcat": [
      {"width": 336, "height": 337, "layer": [
        {"transform": [{"filter": "datum.g == 'SI' && datum.s != 'fit'"}], "mark": {"type": "line", "color": "#111111", "strokeWidth": 1, "clip": true},
         "encoding": {
           "x": {"field": "f", "type": "quantitative", "scale": {"type": "log", "domain": [0.02, 300], "nice": false}, "axis": {"title": null, "values": [0.03,0.04,0.05,0.06,0.07,0.08,0.09,0.1,0.2,0.3,0.4,0.5,0.6,0.7,0.8,0.9,1,2,3,4,5,6,7,8,9,10,20,30,40,50,60,70,80,90,100,200,300], "labelExpr": "datum.value == 0.1 ? '0.1' : datum.value == 1 ? '1' : datum.value == 10 ? '10' : datum.value == 100 ? '100' : ''", "labelFontSize": {"condition": {"test": "datum.value == 0.1 || datum.value == 1 || datum.value == 10 || datum.value == 100", "value": 26}, "value": 0}, "tickSize": {"condition": {"test": "datum.value == 0.1 || datum.value == 1 || datum.value == 10 || datum.value == 100", "value": -9}, "value": -5}, "labelPadding": 17}},
           "y": {"field": "t", "type": "quantitative", "scale": {"domain": [40, 150], "nice": false, "zero": false}, "axis": {"title": null, "values": [40,50,60,70,80,90,100,110,120,130,140,150], "labelExpr": "datum.value % 20 == 0 ? datum.label : ''", "labelFontSize": {"condition": {"test": "datum.value % 20 == 0", "value": 26}, "value": 0}, "tickSize": {"condition": {"test": "datum.value % 20 == 0", "value": -9}, "value": -5}, "labelPadding": 16}},
           "detail": {"field": "s"}
         }},
        {"transform": [{"filter": "datum.g == 'SI' && datum.s == 'fit'"}], "mark": {"type": "line", "color": "black", "strokeWidth": 8, "strokeCap": "round", "strokeJoin": "round", "interpolate": "monotone", "clip": true},
         "encoding": {
           "x": {"field": "f", "type": "quantitative", "scale": {"type": "log", "domain": [0.02, 300], "nice": false}},
           "y": {"field": "t", "type": "quantitative", "scale": {"domain": [40, 150], "nice": false, "zero": false}}
         }},
        {"data": {"values": [{}]}, "mark": {"type": "text", "align": "left", "baseline": "alphabetic", "fontSize": 32, "font": "Liberation Sans", "color": "black"}, "encoding": {"x": {"datum": 0.033, "type": "quantitative"}, "y": {"datum": 53.1, "type": "quantitative"}, "text": {"value": "SI"}}}
      ]},
      {"width": 336, "height": 337, "layer": [
        {"transform": [{"filter": "datum.g == 'OW' && datum.s != 'fit'"}], "mark": {"type": "line", "color": "#111111", "strokeWidth": 1, "clip": true},
         "encoding": {
           "x": {"field": "f", "type": "quantitative", "scale": {"type": "log", "domain": [0.02, 300], "nice": false}, "axis": {"title": "frequency (kHz)", "titlePadding": 10, "values": [0.03,0.04,0.05,0.06,0.07,0.08,0.09,0.1,0.2,0.3,0.4,0.5,0.6,0.7,0.8,0.9,1,2,3,4,5,6,7,8,9,10,20,30,40,50,60,70,80,90,100,200,300], "labelExpr": "datum.value == 0.1 ? '0.1' : datum.value == 1 ? '1' : datum.value == 10 ? '10' : datum.value == 100 ? '100' : ''", "labelFontSize": {"condition": {"test": "datum.value == 0.1 || datum.value == 1 || datum.value == 10 || datum.value == 100", "value": 26}, "value": 0}, "tickSize": {"condition": {"test": "datum.value == 0.1 || datum.value == 1 || datum.value == 10 || datum.value == 100", "value": -9}, "value": -5}, "labelPadding": 17}},
           "y": {"field": "t", "type": "quantitative", "scale": {"domain": [40, 150], "nice": false, "zero": false}, "axis": {"title": null, "labels": false, "values": [40,50,60,70,80,90,100,110,120,130,140,150], "tickSize": {"condition": {"test": "datum.value % 20 == 0", "value": -9}, "value": -5}}},
           "detail": {"field": "s"}
         }},
        {"transform": [{"filter": "datum.g == 'OW' && datum.s == 'fit'"}], "mark": {"type": "line", "color": "black", "strokeWidth": 8, "strokeCap": "round", "strokeJoin": "round", "interpolate": "monotone", "clip": true},
         "encoding": {
           "x": {"field": "f", "type": "quantitative", "scale": {"type": "log", "domain": [0.02, 300], "nice": false}},
           "y": {"field": "t", "type": "quantitative", "scale": {"domain": [40, 150], "nice": false, "zero": false}}
         }},
        {"data": {"values": [{}]}, "mark": {"type": "text", "align": "left", "baseline": "alphabetic", "fontSize": 32, "font": "Liberation Sans", "color": "black"}, "encoding": {"x": {"datum": 0.033, "type": "quantitative"}, "y": {"datum": 53.1, "type": "quantitative"}, "text": {"value": "OW"}}}
      ]},
      {"width": 336, "height": 337, "layer": [
        {"transform": [{"filter": "datum.g == 'PW' && datum.s != 'fit'"}], "mark": {"type": "line", "color": "#111111", "strokeWidth": 1, "clip": true},
         "encoding": {
           "x": {"field": "f", "type": "quantitative", "scale": {"type": "log", "domain": [0.02, 300], "nice": false}, "axis": {"title": null, "values": [0.03,0.04,0.05,0.06,0.07,0.08,0.09,0.1,0.2,0.3,0.4,0.5,0.6,0.7,0.8,0.9,1,2,3,4,5,6,7,8,9,10,20,30,40,50,60,70,80,90,100,200,300], "labelExpr": "datum.value == 0.1 ? '0.1' : datum.value == 1 ? '1' : datum.value == 10 ? '10' : datum.value == 100 ? '100' : ''", "labelFontSize": {"condition": {"test": "datum.value == 0.1 || datum.value == 1 || datum.value == 10 || datum.value == 100", "value": 26}, "value": 0}, "tickSize": {"condition": {"test": "datum.value == 0.1 || datum.value == 1 || datum.value == 10 || datum.value == 100", "value": -9}, "value": -5}, "labelPadding": 17}},
           "y": {"field": "t", "type": "quantitative", "scale": {"domain": [40, 150], "nice": false, "zero": false}, "axis": {"title": null, "labels": false, "values": [40,50,60,70,80,90,100,110,120,130,140,150], "tickSize": {"condition": {"test": "datum.value % 20 == 0", "value": -9}, "value": -5}}},
           "detail": {"field": "s"}
         }},
        {"transform": [{"filter": "datum.g == 'PW' && datum.s == 'fit'"}], "mark": {"type": "line", "color": "black", "strokeWidth": 8, "strokeCap": "round", "strokeJoin": "round", "interpolate": "monotone", "clip": true},
         "encoding": {
           "x": {"field": "f", "type": "quantitative", "scale": {"type": "log", "domain": [0.02, 300], "nice": false}},
           "y": {"field": "t", "type": "quantitative", "scale": {"domain": [40, 150], "nice": false, "zero": false}}
         }},
        {"data": {"values": [{}]}, "mark": {"type": "text", "align": "left", "baseline": "alphabetic", "fontSize": 32, "font": "Liberation Sans", "color": "black"}, "encoding": {"x": {"datum": 0.033, "type": "quantitative"}, "y": {"datum": 53.1, "type": "quantitative"}, "text": {"value": "PW"}}}
      ]}
    ], "spacing": 8}
  ],
  "spacing": 20
}
